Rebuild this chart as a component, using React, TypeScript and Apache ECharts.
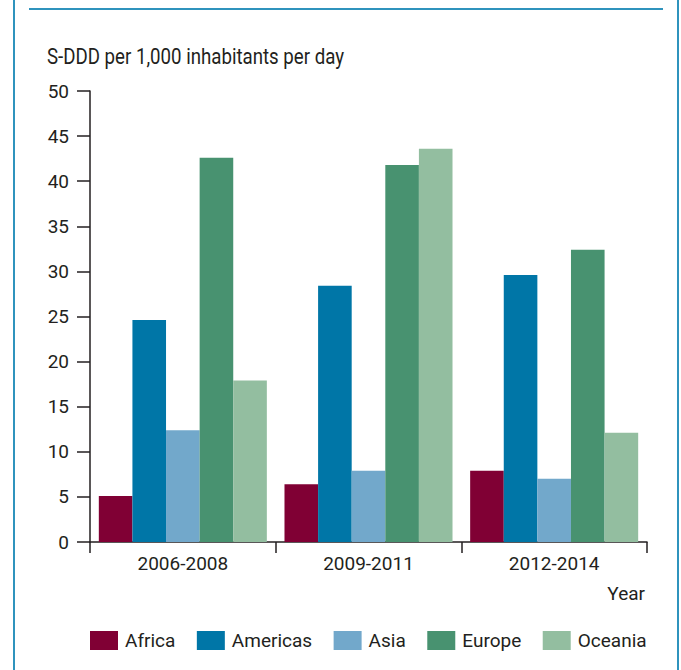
import React, { useEffect, useRef } from "react";
import * as echarts from "echarts";

const categories = ["2006-2008", "2009-2011", "2012-2014"];
const regions = ["Africa", "Americas", "Asia", "Europe", "Oceania"];
const africa = [5.1, 6.4, 7.9];
const americas = [24.6, 28.4, 29.6];
const asia = [12.4, 7.9, 7.0];
const europe = [42.6, 41.8, 32.4];
const oceania = [17.9, 43.6, 12.1];
const colors = ["#800034", "#0076A7", "#72A8CB", "#489270", "#93BEA0"];
const yAxisTitle = "S-DDD per 1,000 inhabitants per day";
const xAxisTitle = "Year";

const FONT = "Roboto, 'Noto Sans', sans-serif";
const TEXT = "#231f20";
const AXIS = "#231f20";
const FRAME = "#2f93bd";

export default function App() {
  const ref = useRef<HTMLDivElement>(null);
  useEffect(() => {
    if (!ref.current) return;
    const chart = echarts.init(ref.current, null, { renderer: "svg" });
    const values = [africa, americas, asia, europe, oceania];
    chart.setOption({
      animation: false,
      backgroundColor: "#ffffff",
      textStyle: { fontFamily: FONT },
      grid: { left: 90, right: 34, top: 91, bottom: 128 },
      legend: {
        data: regions,
        left: 90,
        top: 631,
        padding: 0,
        itemWidth: 28,
        itemHeight: 19,
        itemGap: 21.5,
        icon: "rect",
        textStyle: { fontSize: 19, color: TEXT, fontFamily: FONT, padding: [0, 0, 0, 2] },
      },
      xAxis: {
        type: "category",
        data: categories,
        axisLine: { lineStyle: { color: AXIS, width: 1.5 } },
        axisTick: { show: true, length: 11, alignWithLabel: false, lineStyle: { color: AXIS, width: 1.5 } },
        axisLabel: { fontSize: 19, color: TEXT, margin: 12, fontFamily: FONT },
        splitLine: { show: false },
      },
      yAxis: {
        type: "value",
        min: 0,
        max: 50,
        interval: 5,
        axisLine: { show: true, lineStyle: { color: AXIS, width: 1.5 } },
        axisTick: { show: true, length: 13, lineStyle: { color: AXIS, width: 1.5 } },
        axisLabel: { fontSize: 19, color: TEXT, margin: 21, fontFamily: FONT },
        splitLine: { show: false },
      },
      series: regions.map((name, i) => ({
        name,
        type: "bar",
        data: values[i],
        barGap: "0%",
        barCategoryGap: "9.5%",
        itemStyle: { color: colors[i] },
      })),
      graphic: [
        {
          type: "line",
          shape: { x1: 14, y1: 0, x2: 14, y2: 670 },
          style: { stroke: FRAME, lineWidth: 2 },
        },
        {
          type: "line",
          shape: { x1: 678, y1: 0, x2: 678, y2: 670 },
          style: { stroke: FRAME, lineWidth: 2 },
        },
        {
          type: "line",
          shape: { x1: 29, y1: 9, x2: 663, y2: 9 },
          style: { stroke: FRAME, lineWidth: 1.8 },
        },
        {
          type: "text",
          x: 47,
          y: 45,
          scaleX: 0.83,
          style: { text: yAxisTitle, fontSize: 22.5, fill: TEXT, fontFamily: FONT },
        },
        {
          type: "text",
          right: 36,
          top: 584,
          style: { text: xAxisTitle, fontSize: 19, fill: TEXT, fontFamily: FONT },
        },
      ],
    });
    return () => chart.dispose();
  }, []);
  return (
    <div
      ref={ref}
      style={{ position: "fixed", left: 0, top: 0, width: 681, height: 670 }}
    />
  );
}
